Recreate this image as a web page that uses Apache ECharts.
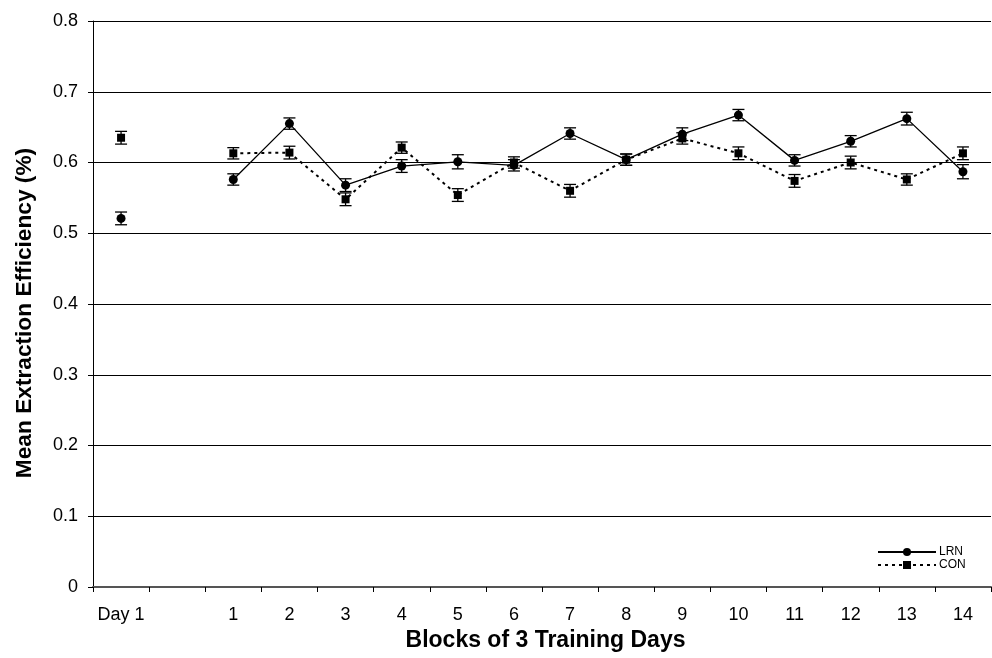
<!DOCTYPE html>
<html>
<head>
<meta charset="utf-8">
<script src="https://cdn.jsdelivr.net/npm/echarts@6/dist/echarts.min.js"></script>
<style>
html,body{margin:0;padding:0;background:#fff;}
#chart{width:992px;height:658px;}
</style>
</head>
<body>
<div id="chart"></div>
<script>
const categories = ['Day 1', '', '1', '2', '3', '4', '5', '6', '7', '8', '9', '10', '11', '12', '13', '14'];
const yTicks = [0, 0.1, 0.2, 0.3, 0.4, 0.5, 0.6, 0.7, 0.8];
const lrnValues = [0.521, null, 0.576, 0.655, 0.568, 0.595, 0.601, 0.596, 0.641, 0.604, 0.640, 0.667, 0.603, 0.630, 0.662, 0.587];
const lrnErr    = [0.009, null, 0.008, 0.008, 0.009, 0.009, 0.010, 0.008, 0.008, 0.008, 0.009, 0.008, 0.008, 0.008, 0.009, 0.010];
const conValues = [0.635, null, 0.613, 0.614, 0.548, 0.621, 0.554, 0.600, 0.560, 0.604, 0.634, 0.613, 0.574, 0.600, 0.576, 0.613];
const conErr    = [0.009, null, 0.008, 0.009, 0.009, 0.008, 0.009, 0.008, 0.009, 0.008, 0.008, 0.009, 0.009, 0.009, 0.008, 0.009];

const FONT = '"Liberation Sans", Arial, Helvetica, sans-serif';

function errData(vals, errs) {
  const out = [];
  vals.forEach((v, i) => {
    if (v !== null && errs[i] !== null) out.push([i, v - errs[i], v + errs[i]]);
  });
  return out;
}

function renderErr(params, api) {
  const x = api.value(0);
  const lo = api.coord([x, api.value(1)]);
  const hi = api.coord([x, api.value(2)]);
  const hw = 6;
  const style = { stroke: '#000', lineWidth: 1.3 };
  return {
    type: 'group',
    children: [
      { type: 'line', shape: { x1: lo[0], y1: lo[1], x2: hi[0], y2: hi[1] }, style: style },
      { type: 'line', shape: { x1: lo[0] - hw, y1: lo[1], x2: lo[0] + hw, y2: lo[1] }, style: style },
      { type: 'line', shape: { x1: hi[0] - hw, y1: hi[1], x2: hi[0] + hw, y2: hi[1] }, style: style }
    ]
  };
}

const chart = echarts.init(document.getElementById('chart'), null, { renderer: 'canvas' });
chart.setOption({
  animation: false,
  backgroundColor: '#fff',
  textStyle: { fontFamily: FONT, color: '#000' },
  grid: { left: 93, right: 1, top: 21, bottom: 71, containLabel: false },
  legend: {
    data: ['LRN', 'CON'],
    orient: 'vertical',
    left: 877,
    top: 546,
    itemWidth: 58,
    itemHeight: 10,
    itemGap: 1,
    textStyle: { fontFamily: FONT, fontSize: 12, color: '#000', padding: [0, 0, 0, -2] },
    padding: 0
  },
  xAxis: {
    type: 'category',
    data: categories,
    boundaryGap: true,
    name: 'Blocks of 3 Training Days',
    nameLocation: 'middle',
    nameGap: 40,
    nameTextStyle: { fontFamily: FONT, fontSize: 23, fontWeight: 'bold', color: '#000', padding: [0, 0, 0, 7] },
    axisLine: { lineStyle: { color: '#555', width: 2 } },
    axisTick: { show: true, alignWithLabel: false, length: 5, lineStyle: { color: '#000' }, interval: 0 },
    axisLabel: { fontFamily: FONT, fontSize: 18, color: '#000', margin: 19, interval: 0 },
    splitLine: { show: false }
  },
  yAxis: {
    type: 'value',
    min: 0,
    max: 0.8,
    interval: 0.1,
    name: 'Mean Extraction Efficiency (%)',
    nameLocation: 'middle',
    nameGap: 57,
    nameTextStyle: { fontFamily: FONT, fontSize: 22.7, fontWeight: 'bold', color: '#000', padding: [0, 18, 0, 0] },
    axisLine: { show: true, lineStyle: { color: '#000', width: 1 } },
    axisTick: { show: true, length: 5, lineStyle: { color: '#000' } },
    axisLabel: {
      fontFamily: FONT, fontSize: 18, color: '#000', margin: 15,
      formatter: function (v) {
        const t = yTicks.find(k => Math.abs(k - v) < 1e-9);
        return t === undefined ? '' : String(t);
      }
    },
    splitLine: { show: true, lineStyle: { color: '#000', width: 1 } }
  },
  series: [
    {
      name: 'LRN',
      type: 'line',
      data: lrnValues,
      connectNulls: false,
      symbol: 'circle',
      symbolSize: 9,
      itemStyle: { color: '#000' },
      lineStyle: { color: '#000', width: 1.3, type: 'solid' },
      z: 3
    },
    {
      name: 'CON',
      type: 'line',
      data: conValues,
      connectNulls: false,
      symbol: 'rect',
      symbolSize: 8,
      itemStyle: { color: '#000' },
      lineStyle: { color: '#000', width: 2, type: [3, 4] },
      z: 3
    },
    {
      name: 'LRN err',
      type: 'custom',
      data: errData(lrnValues, lrnErr),
      encode: { x: 0, y: [1, 2] },
      renderItem: renderErr,
      z: 4,
      silent: true
    },
    {
      name: 'CON err',
      type: 'custom',
      data: errData(conValues, conErr),
      encode: { x: 0, y: [1, 2] },
      renderItem: renderErr,
      z: 4,
      silent: true
    }
  ]
});
</script>
</body>
</html>
